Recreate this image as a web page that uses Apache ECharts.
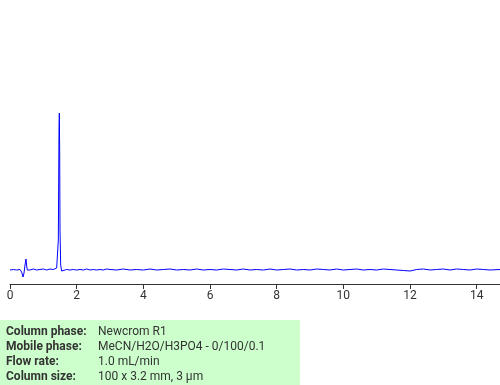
<!DOCTYPE html>
<html><head><meta charset="utf-8">
<script src="https://cdn.jsdelivr.net/npm/echarts@6/dist/echarts.min.js"></script>
<style>
html,body{margin:0;padding:0;background:#fff;}
#c{width:500px;height:385px;position:absolute;left:0;top:0;}
</style></head>
<body><div id="c"></div>
<script>
// retention time (min) and detector signal (arbitrary units)
const timeMin = [0,0.1,0.2,0.3,0.35,0.39,0.42,0.45,0.48,0.5,0.52,0.55,0.6,0.7,0.8,0.9,1.0,1.1,1.2,1.3,1.4,1.43,1.45,1.47,1.48,1.49,1.5,1.52,1.55,1.6,1.7,1.8,1.9,2.0,2.1,2.2,2.3,2.4,2.5,2.6,2.7,2.8,2.9,3.0,3.2,3.4,3.6,3.8,4.0,4.2,4.4,4.6,4.8,5.0,5.2,5.4,5.6,5.8,6.0,6.2,6.4,6.6,6.8,7.0,7.2,7.4,7.6,7.8,8.0,8.2,8.4,8.6,8.8,9.0,9.2,9.4,9.6,9.8,10.0,10.2,10.4,10.6,10.8,11.0,11.2,11.4,11.6,11.8,12.0,12.2,12.4,12.6,12.8,13.0,13.2,13.4,13.6,13.8,14.0,14.2,14.4,14.7];
const signal  = [0,0.5,0,0.5,-2,-7,-3,5,11,4,0,0.5,0,1,0,0.5,1,0,1,0.5,2,3,30,140,157,120,40,5,-1,0,0.5,0,0.5,0,0.5,0,1,0,0.5,0,0.5,0,1,0.5,0,1,0,0.5,0,1,0,0.5,1,0,0.5,0,1,0,0.5,0,1,0.5,0,1,0,0.5,0,1,0,0.5,1,0,0.5,0,1,0.5,0,1,0,0.5,1,0,0.5,0,1,0.5,0,-0.5,-1,0.5,1,0,0.5,1,0,1,0.5,0,1,0.5,0,0.5];
const xTicks = [0,2,4,6,8,10,12,14];
const infoLabels = ["Column phase:","Mobile phase:","Flow rate:","Column size:"];
const infoValues = ["Newcrom R1","MeCN/H2O/H3PO4 - 0/100/0.1","1.0 mL/min","100 x 3.2 mm, 3 µm"];

const chart = echarts.init(document.getElementById('c'), null, {renderer:'canvas'});
const data = timeMin.map((t,i)=>[t,signal[i]]);
const infoText = infoLabels.map((l,i)=>'{b|'+l+'}{v|'+infoValues[i]+'}').join('\n');
chart.setOption({
  animation:false,
  grid:{left:10,right:0,top:10,bottom:101,containLabel:false},
  xAxis:{type:'value',min:0,max:14.7,interval:2,
    axisLine:{show:true,onZero:false,lineStyle:{color:'#333',width:1}},
    axisTick:{show:true,length:5,lineStyle:{color:'#333'},customValues:xTicks},
    axisLabel:{color:'#333',fontFamily:'Roboto',fontSize:12,margin:6,customValues:xTicks},
    splitLine:{show:false}},
  yAxis:{type:'value',min:-14,max:260,show:false,splitLine:{show:false}},
  series:[{type:'line',data:data,showSymbol:false,lineStyle:{color:'#0000ff',width:1},silent:true}],
  graphic:[
    {type:'rect',left:0,top:320,shape:{width:300,height:65},style:{fill:'#ccffcc'}},
    {type:'text',left:6,top:326,style:{text:infoText,rich:{
      b:{fontFamily:'Roboto',fontSize:12,fontWeight:'bold',fill:'#333',width:92,lineHeight:15},
      v:{fontFamily:'Roboto',fontSize:12,fill:'#333',lineHeight:15}}}}
  ]
});
</script></body></html>
